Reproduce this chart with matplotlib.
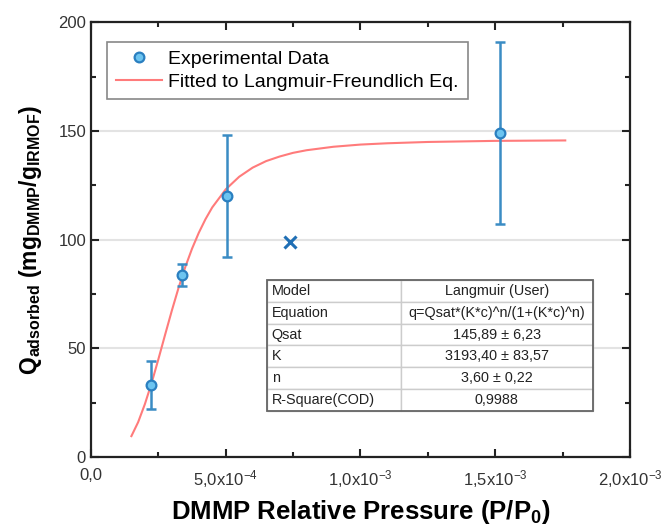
import matplotlib
matplotlib.use('Agg')
import matplotlib.pyplot as plt
from matplotlib.ticker import MultipleLocator, FixedLocator
from matplotlib.patches import Rectangle

plt.rcParams['font.family'] = ['Liberation Sans', 'DejaVu Sans']
plt.rcParams['mathtext.fontset'] = 'custom'
plt.rcParams['mathtext.rm'] = 'Liberation Sans'
plt.rcParams['mathtext.it'] = 'Liberation Sans:italic'
plt.rcParams['mathtext.bf'] = 'Liberation Sans:bold'

exp_x = [2.22e-4, 3.39e-4, 5.04e-4, 1.518e-3]
exp_y = [33.2, 83.8, 120.0, 149.0]
exp_err = [11.0, 5.0, 28.0, 42.0]

# excluded point
out_x = [7.40e-4]
out_y = [98.8]

# fitted curve points
fit_x = [1.5e-4, 1.75e-4, 2.0e-4, 2.25e-4, 2.5e-4, 2.75e-4, 3.0e-4, 3.25e-4,
         3.5e-4, 3.75e-4, 4.0e-4, 4.25e-4, 4.5e-4, 5.0e-4, 5.5e-4, 6.0e-4,
         6.5e-4, 7.0e-4, 7.5e-4, 8.0e-4, 9.0e-4, 1.0e-3, 1.1e-3, 1.25e-3,
         1.5e-3, 1.76e-3]
fit_y = [9.6, 16.0, 24.3, 34.0, 44.9, 56.2, 67.3, 77.8,
         87.4, 95.8, 103.1, 109.4, 114.8, 123.1, 128.9, 133.1,
         136.1, 138.2, 139.9, 141.1, 142.7, 143.7, 144.3, 144.9,
         145.4, 145.6]

xtick_vals = [0, 5e-4, 1e-3, 1.5e-3, 2e-3]
xtick_labels = ['0,0', '5,0x10$^{-4}$', '1,0x10$^{-3}$', '1,5x10$^{-3}$', '2,0x10$^{-3}$']

table_rows = [['Model', 'Langmuir (User)'],
              ['Equation', 'q=Qsat*(K*c)^n/(1+(K*c)^n)'],
              ['Qsat', '145,89 \u00b1 6,23'],
              ['K', '3193,40 \u00b1 83,57'],
              ['n', '3,60 \u00b1 0,22'],
              ['R-Square(COD)', '0,9988']]

fig = plt.figure(figsize=(6.64, 5.28), dpi=100)
ax = fig.add_axes([0.137, 0.1345, 0.8117, 0.8235])

ax.plot(fit_x, fit_y, color='#ff7b7b', lw=1.5, zorder=2,
        label='Fitted to Langmuir-Freundlich Eq.')
ax.errorbar(exp_x, exp_y, yerr=exp_err, fmt='none', ecolor='#3a8cc4',
            elinewidth=1.8, capsize=3.5, capthick=1.8, zorder=3)
ax.plot(exp_x, exp_y, 'o', ms=7, mfc='#6cc4f0', mec='#2a7fc0', mew=1.6,
        zorder=4, label='Experimental Data')
ax.plot(out_x, out_y, 'x', ms=8, mew=2.2, color='#1f6fb5', zorder=4)

ax.set_xlim(0, 2e-3)
ax.set_ylim(0, 200)
ax.xaxis.set_major_locator(FixedLocator(xtick_vals))
ax.set_xticklabels(xtick_labels)
ax.xaxis.set_minor_locator(MultipleLocator(2.5e-4))
ax.yaxis.set_major_locator(MultipleLocator(50))
ax.yaxis.set_minor_locator(MultipleLocator(25))
ax.grid(axis='y', which='major', color='#e3e3e3', lw=1.5, zorder=0)
ax.set_axisbelow(True)

ax.tick_params(which='both', direction='in', top=True, right=True,
               labelsize=12, colors='#222222', labelcolor='#333333')
ax.tick_params(which='major', length=6, width=1.5)
ax.tick_params(which='minor', length=3.5, width=1.5)
ax.tick_params(axis='x', pad=8)
for s in ax.spines.values():
    s.set_linewidth(1.6)
    s.set_color('#222222')

ax.set_xlabel('DMMP Relative Pressure (P/P$_\\mathbf{0}$)', fontsize=18.5,
              fontweight='bold', labelpad=6)
ax.set_ylabel('Q$_{\\mathbf{adsorbed}}$ (mg$_{\\mathbf{DMMP}}$/g$_{\\mathbf{IRMOF}}$)',
              fontsize=16.5, fontweight='bold', labelpad=10)

handles, labels = ax.get_legend_handles_labels()
leg = ax.legend(handles[::-1], labels[::-1], loc='upper left',
                bbox_to_anchor=(0.03, 0.955), fontsize=14, fancybox=False,
                edgecolor='#888888', framealpha=1, borderpad=0.45,
                handlelength=2.35, handletextpad=0.35, labelspacing=0.25,
                borderaxespad=0)
leg.get_frame().set_linewidth(1.2)

tbl = ax.table(cellText=table_rows, bbox=[0.3265, 0.106, 0.6045, 0.301],
               colWidths=[0.41, 0.59], zorder=5)
tbl.auto_set_font_size(False)
for (r, c), cell in tbl.get_celld().items():
    cell.set_edgecolor('#cccccc')
    cell.set_linewidth(1.0)
    cell.set_facecolor('white')
    cell.get_text().set_fontsize(10.4)
    cell.get_text().set_color('#222222')
    if c == 0:
        cell.get_text().set_ha('left')
        cell.PAD = 0.035
    else:
        cell.get_text().set_ha('center')
ax.add_patch(Rectangle((0.3265, 0.106), 0.6045, 0.301, transform=ax.transAxes,
                       fill=False, edgecolor='#666666', lw=1.3, zorder=6))

fig.savefig('out.png', dpi=100)
